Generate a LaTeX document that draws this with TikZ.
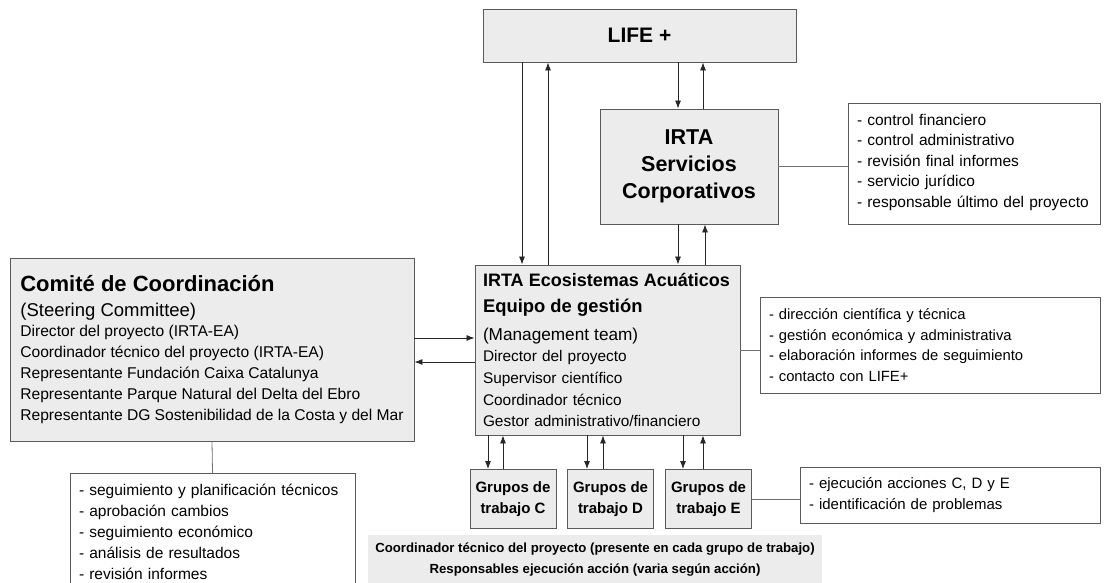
\documentclass[tikz,border=0pt]{standalone}
\usepackage{fontspec}
\setmainfont{Liberation Sans}
\usetikzlibrary{arrows.meta}
\definecolor{boxfill}{HTML}{ECECEC}
\definecolor{boxline}{HTML}{5A5A5A}
\definecolor{connline}{HTML}{707070}
\begin{document}
\begin{tikzpicture}[x=1pt,y=-1pt,
  box/.style={draw=boxline, fill=boxfill, line width=0.9pt, inner sep=0pt},
  listbox/.style={draw=boxline, fill=white, line width=0.9pt, inner ysep=0pt, inner xsep=9pt, align=left},
  arr/.style={-{Latex[length=8pt,width=6pt]}, line width=0.8pt, draw=black!85},
  conn/.style={draw=connline, line width=0.8pt},
  grp/.style={box, minimum width=86pt, minimum height=59pt, align=center, font=\fontsize{15}{21}\selectfont\bfseries}]
\useasboundingbox (0,0) rectangle (1110,583);
% boxes
\node[box, minimum width=313pt, minimum height=53pt, font=\fontsize{21}{24}\selectfont\bfseries] (life) at (639.5,35.5) {LIFE +};
\node[box, minimum width=178pt, minimum height=115pt, align=center, font=\fontsize{21.5}{27}\selectfont\bfseries] (serv) at (689,166.5) {IRTA\\Servicios\\Corporativos};
\node[listbox, text width=234pt, minimum height=121pt, font=\fontsize{15.5}{20.5}\selectfont] (servtxt) at (974,163.5) {- control financiero\\- control administrativo\\- revisión final informes\\- servicio jurídico\\- responsable último del proyecto\\[-14.5pt]\mbox{}};
\node[box, text width=249pt, inner xsep=8pt, minimum height=170pt, align=left, font=\fontsize{15.4}{21.7}\selectfont] (ea) at (607.5,350) {%
\fontsize{18}{21.7}\selectfont\bfseries IRTA Ecosistemas Acuáticos\\[4.3pt]
\fontsize{18.4}{21.7}\selectfont Equipo de gestión\\[6.3pt]
\fontsize{17.2}{21.7}\selectfont\mdseries (Management team)\\
\fontsize{15.4}{21.7}\selectfont Director del proyecto\\
Supervisor científico\\
Coordinador técnico\\
Gestor administrativo/financiero};
\node[listbox, text width=322pt, minimum height=96pt, font=\fontsize{14.8}{20.5}\selectfont] (eatxt) at (930,345) {- dirección científica y técnica\\- gestión económica y administrativa\\- elaboración informes de seguimiento\\- contacto con LIFE+};
\node[box, minimum width=404pt, minimum height=183pt, align=left, font=\fontsize{15.6}{21}\selectfont] (com) at (212,349.5) {%
\fontsize{22}{21}\selectfont\bfseries Comité de Coordinación\\[4pt]
\fontsize{18.5}{21}\selectfont (Steering Committee)\\[-1pt]
Director del proyecto (IRTA-EA)\\
Coordinador técnico del proyecto (IRTA-EA)\\
Representante Fundación Caixa Catalunya\\
Representante Parque Natural del Delta del Ebro\\
Representante DG Sostenibilidad de la Costa y del Mar};
\node[listbox, text width=267pt, minimum height=117pt, anchor=north, font=\fontsize{15.5}{21}\selectfont] (comtxt) at (212.5,473) {- seguimiento y planificación técnicos\\- aprobación cambios\\- seguimiento económico\\- análisis de resultados\\- revisión informes};
\node[grp] (grpC) at (513,499) {Grupos de\\trabajo C};
\node[grp] (grpD) at (610.5,499) {Grupos de\\trabajo D};
\node[grp] (grpE) at (708.5,499) {Grupos de\\trabajo E};
\node[listbox, text width=282pt, minimum height=56pt, font=\fontsize{15}{20.5}\selectfont] (etxt) at (950,495) {- ejecución acciones C, D y E\\- identificación de problemas};
\node[fill=boxfill, minimum width=454pt, minimum height=48pt, anchor=north, inner sep=0pt, align=center,
  font=\fontsize{13.2}{21}\selectfont\bfseries] (note) at (595,535) {Coordinador técnico del proyecto (presente en cada grupo de trabajo)\\Responsables ejecución acción (varia según acción)};
% arrow columns
\coordinate (a1) at (522,0);
\coordinate (a2) at (548,0);
\coordinate (b1) at (678,0);
\coordinate (b2) at (703,0);
\coordinate (c1) at (678,0);
\coordinate (c2) at (705,0);
\coordinate (gc1) at (488,0);
\coordinate (gc2) at (503,0);
\coordinate (gd1) at (587,0);
\coordinate (gd2) at (603,0);
\coordinate (ge1) at (683,0);
\coordinate (ge2) at (703,0);
\coordinate (h1) at (0,338);
\coordinate (h2) at (0,362);
\draw[arr] (a1 |- life.south) -- (a1 |- ea.north);
\draw[arr] (a2 |- ea.north) -- (a2 |- life.south);
\draw[arr] (b1 |- life.south) -- (b1 |- serv.north);
\draw[arr] (b2 |- serv.north) -- (b2 |- life.south);
\draw[arr] (c1 |- serv.south) -- (c1 |- ea.north);
\draw[arr] (c2 |- ea.north) -- (c2 |- serv.south);
\draw[arr] (h1 -| com.east) -- (h1 -| ea.west);
\draw[arr] (h2 -| ea.west) -- (h2 -| com.east);
\draw[arr] (gc1 |- ea.south) -- (gc1 |- grpC.north);
\draw[arr] (gc2 |- grpC.north) -- (gc2 |- ea.south);
\draw[arr] (gd1 |- ea.south) -- (gd1 |- grpD.north);
\draw[arr] (gd2 |- grpD.north) -- (gd2 |- ea.south);
\draw[arr] (ge1 |- ea.south) -- (ge1 |- grpE.north);
\draw[arr] (ge2 |- grpE.north) -- (ge2 |- ea.south);
% plain connectors
\draw[conn] (serv.east) -- (serv.east -| servtxt.west);
\draw[conn] (ea.east) -- (ea.east -| eatxt.west);
\draw[conn] (grpE.east) -- (grpE.east -| etxt.west);
\draw[conn] (com.south) -- (comtxt.north);
\end{tikzpicture}
\end{document}
